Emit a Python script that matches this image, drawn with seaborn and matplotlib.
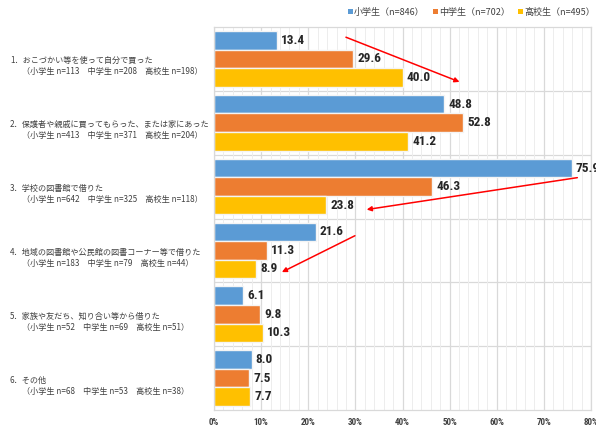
import matplotlib
matplotlib.use("Agg")
import matplotlib.pyplot as plt
import seaborn as sns
import pandas as pd
import numpy as np
from matplotlib.ticker import MultipleLocator, FuncFormatter
from matplotlib import font_manager as fm

categories = [
    "1．おこづかい等を使って自分で買った",
    "2．保護者や親戚に買ってもらった、または家にあった",
    "3．学校の図書館で借りた",
    "4．地域の図書館や公民館の図書コーナー等で借りた",
    "5．家族や友だち、知り合い等から借りた",
    "6．その他",
]
sublabels = [
    "（小学生 n=113　中学生 n=208　高校生 n=198）",
    "（小学生 n=413　中学生 n=371　高校生 n=204）",
    "（小学生 n=642　中学生 n=325　高校生 n=118）",
    "（小学生 n=183　中学生 n=79　高校生 n=44）",
    "（小学生 n=52　中学生 n=69　高校生 n=51）",
    "（小学生 n=68　中学生 n=53　高校生 n=38）",
]
series = ["小学生（n=846）", "中学生（n=702）", "高校生（n=495）"]
elementary = [13.4, 48.8, 75.9, 21.6, 6.1, 8.0]
junior = [29.6, 52.8, 46.3, 11.3, 9.8, 7.5]
senior = [40.0, 41.2, 23.8, 8.9, 10.3, 7.7]

colors = ["#5B9BD5", "#ED7D31", "#FFC000"]

sns.set_style("white")
plt.rcParams['font.family'] = ['Noto Sans CJK JP', 'DejaVu Sans']

# pick a condensed font for numbers if available
names = {f.name for f in fm.fontManager.ttflist}
num_family = "DejaVu Sans"
for cand in ["Liberation Sans Narrow", "Roboto Condensed", "DejaVu Sans Condensed", "Open Sans Condensed"]:
    if cand in names:
        num_family = cand
        break
condensed_ok = any(f.name == "DejaVu Sans" and f.stretch in ("condensed", 300, "semi-condensed")
                   for f in fm.fontManager.ttflist)

rows = []
for i, c in enumerate(categories):
    for s, vals in zip(series, [elementary, junior, senior]):
        rows.append({"cat": c, "series": s, "value": vals[i]})
df = pd.DataFrame(rows)

fig = plt.figure(figsize=(5.96, 4.30), dpi=100)
ax = fig.add_axes([214/596, 1 - 410/430, (591 - 214)/596, (410 - 27)/430])

sns.barplot(data=df, y="cat", x="value", hue="series", orient="h",
            palette=colors, saturation=1, width=0.87, ax=ax,
            edgecolor="#f4f4f4", linewidth=1.0, legend=True,
            order=categories, hue_order=series)

ax.set_xlim(0, 80)
ax.set_ylim(len(categories) - 0.5, -0.5)
ax.xaxis.set_major_locator(MultipleLocator(10))
ax.xaxis.set_minor_locator(MultipleLocator(2))
ax.xaxis.set_major_formatter(FuncFormatter(lambda v, p: f"{int(v)}%"))
ax.grid(which="major", axis="x", color="#d9d9d9", linewidth=0.9)
ax.grid(which="minor", axis="x", color="#ededed", linewidth=0.7)
ax.set_axisbelow(True)
for b in np.arange(0.5, len(categories) - 0.5, 1):
    ax.axhline(b, color="#d9d9d9", linewidth=0.9, zorder=0)
ax.set_yticks([])
ax.set_ylabel("")
ax.set_xlabel("")
ax.tick_params(axis="x", which="both", length=0, labelsize=6.5, pad=6)
for lbl in ax.get_xticklabels():
    lbl.set_fontweight("bold")
    lbl.set_family(num_family)
    lbl.set_color("#404040")
    lbl.set_fontstretch("condensed")
for sp in ax.spines.values():
    sp.set_color("#d9d9d9")
    sp.set_linewidth(0.9)

label_size = 9.5 if num_family != "DejaVu Sans" else 8.3
for cont in ax.containers:
    texts = ax.bar_label(cont, fmt="%.1f", padding=3, fontsize=label_size, fontweight="bold",
                         family=num_family, color="#262626")
    for t in texts:
        t.set_fontstretch("condensed")

# category labels
for i, (c, s) in enumerate(zip(categories, sublabels)):
    ycen = 59 + 64 * i
    fig.text(10/596, 1 - (ycen + 1)/430, c, fontsize=5.85, va="center", ha="left", color="#404040")
    fig.text(22/596, 1 - (ycen + 12)/430, s, fontsize=5.85, va="center", ha="left", color="#404040")

# legend
leg = ax.legend(loc="center right", bbox_to_anchor=(599/596, 1 - 12/430),
                bbox_transform=fig.transFigure, ncol=3, frameon=False,
                fontsize=6.5, handlelength=0.55, handleheight=0.55, handletextpad=0.15,
                columnspacing=0.9, borderaxespad=0)
for h in leg.legend_handles:
    h.set_edgecolor("none")
for t in leg.get_texts():
    t.set_color("#404040")

# red arrows
arrows = [((28.0, -0.34), (52.1, 0.36)),
          ((77.1, 1.86), (32.4, 2.36)),
          ((29.9, 2.77), (14.4, 3.34))]
for (x0, y0), (x1, y1) in arrows:
    ax.annotate("", xy=(x1, y1), xytext=(x0, y0),
                arrowprops=dict(arrowstyle="-|>", color="#ff0000", lw=1.1,
                                mutation_scale=7, shrinkA=0, shrinkB=0),
                annotation_clip=False)

fig.savefig("out.png", dpi=100)
